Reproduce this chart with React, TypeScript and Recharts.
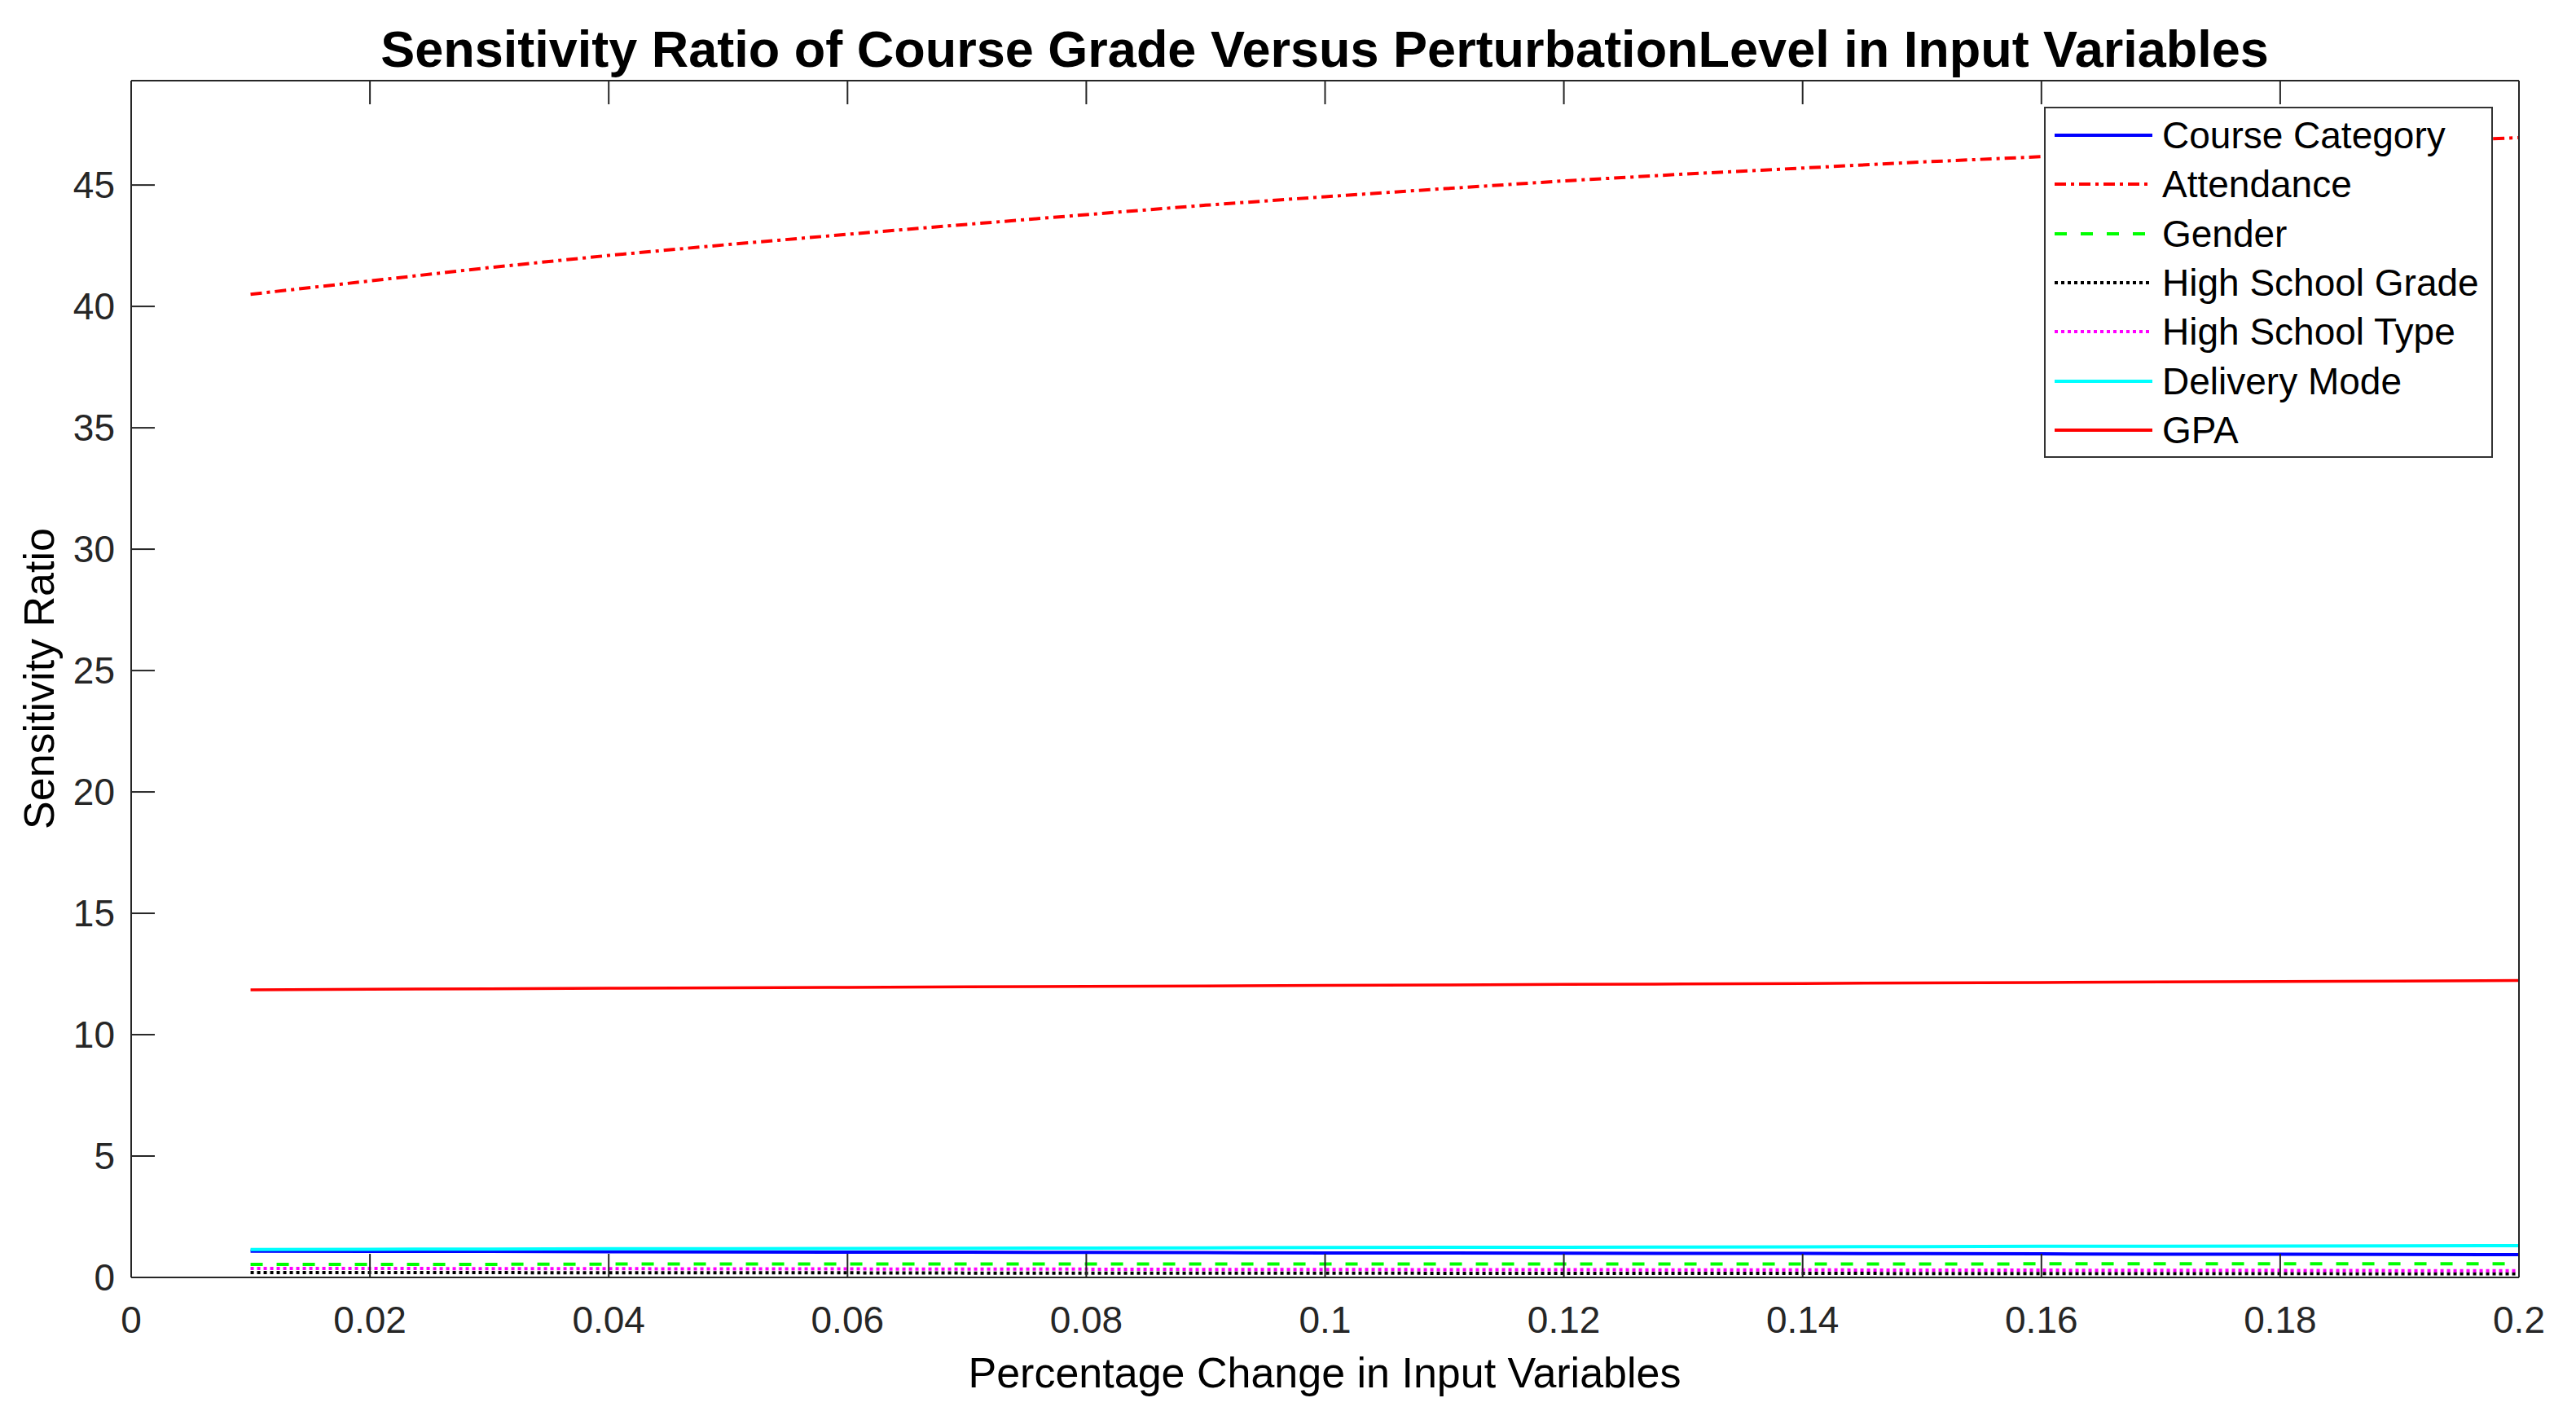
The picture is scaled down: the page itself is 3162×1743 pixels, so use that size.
import React from 'react';
import { LineChart, Line, XAxis, YAxis, Legend } from 'recharts';

const percentChange = [
  0.01, 0.02, 0.03, 0.04, 0.05, 0.06, 0.07, 0.08, 0.09, 0.1,
  0.11, 0.12, 0.13, 0.14, 0.15, 0.16, 0.17, 0.18, 0.19, 0.2,
];

const courseCategory = [
  1.08, 1.07, 1.07, 1.06, 1.05, 1.04, 1.04, 1.03, 1.02, 1.01,
  1.01, 1.0, 0.99, 0.99, 0.98, 0.97, 0.96, 0.96, 0.95, 0.94,
];
const attendance = [
  40.5, 41.05, 41.6, 42.1, 42.55, 42.97, 43.38, 43.78, 44.17, 44.52,
  44.85, 45.17, 45.45, 45.7, 45.95, 46.17, 46.38, 46.58, 46.77, 46.95,
];
const gender = [
  0.54, 0.54, 0.54, 0.55, 0.55, 0.55, 0.55, 0.55, 0.55, 0.55,
  0.55, 0.55, 0.55, 0.55, 0.55, 0.56, 0.56, 0.56, 0.56, 0.56,
];
const highSchoolGrade = [
  0.2, 0.2, 0.2, 0.19, 0.19, 0.19, 0.18, 0.18, 0.18, 0.18,
  0.17, 0.17, 0.17, 0.17, 0.16, 0.16, 0.16, 0.16, 0.15, 0.15,
];
const highSchoolType = [
  0.37, 0.37, 0.36, 0.36, 0.35, 0.35, 0.34, 0.34, 0.33, 0.33,
  0.32, 0.32, 0.31, 0.31, 0.3, 0.3, 0.29, 0.29, 0.28, 0.28,
];
const deliveryMode = [
  1.15, 1.16, 1.17, 1.18, 1.18, 1.19, 1.2, 1.21, 1.22, 1.23,
  1.24, 1.24, 1.25, 1.26, 1.27, 1.28, 1.28, 1.29, 1.3, 1.31,
];
const gpa = [
  11.85, 11.87, 11.89, 11.91, 11.93, 11.95, 11.97, 11.99, 12.01, 12.03,
  12.05, 12.07, 12.09, 12.11, 12.13, 12.15, 12.17, 12.19, 12.21, 12.23,
];

const xTicks = [0, 0.02, 0.04, 0.06, 0.08, 0.1, 0.12, 0.14, 0.16, 0.18, 0.2];
const yTicks = [0, 5, 10, 15, 20, 25, 30, 35, 40, 45];

const series = [
  { key: 'courseCategory', name: 'Course Category', values: courseCategory, color: '#0000ff', dash: undefined },
  { key: 'attendance', name: 'Attendance', values: attendance, color: '#ff0000', dash: '14 6 4 6' },
  { key: 'gender', name: 'Gender', values: gender, color: '#00ff00', dash: '15 17' },
  { key: 'highSchoolGrade', name: 'High School Grade', values: highSchoolGrade, color: '#000000', dash: '4 4' },
  { key: 'highSchoolType', name: 'High School Type', values: highSchoolType, color: '#ff00ff', dash: '4 4' },
  { key: 'deliveryMode', name: 'Delivery Mode', values: deliveryMode, color: '#00ffff', dash: undefined },
  { key: 'gpa', name: 'GPA', values: gpa, color: '#ff0000', dash: undefined },
];

const data = percentChange.map((x, i) => {
  const row: Record<string, number> = { x };
  series.forEach((s) => {
    row[s.key] = s.values[i];
  });
  return row;
});

const FONT = '"Liberation Sans", Arial, Helvetica, sans-serif';
const AXIS = '#262626';

const W = 3162;
const H = 1743;
// axes are 1px thick boxes, so the margins are one pixel short of the frame
const M = { top: 98, right: 69, bottom: 174, left: 160 };

function fmt(v: number) {
  return String(Number(v.toFixed(2)));
}

const blank = () => '';

function LegendBox() {
  return (
    <div
      style={{
        width: 547,
        height: 424,
        border: '2px solid #333',
        background: '#fff',
        boxSizing: 'content-box',
        paddingTop: 3,
        fontFamily: FONT,
        fontSize: 46,
        color: '#000',
      }}
    >
      {series.map((s) => (
        <div key={s.key} style={{ height: 60.3, display: 'flex', alignItems: 'center' }}>
          <svg width={143} height={20} style={{ flex: 'none' }}>
            <line
              x1={11}
              x2={131}
              y1={10}
              y2={10}
              stroke={s.color}
              strokeWidth={4}
              strokeDasharray={s.dash}
            />
          </svg>
          <span style={{ whiteSpace: 'nowrap', lineHeight: 1 }}>{s.name}</span>
        </div>
      ))}
    </div>
  );
}

export default function App() {
  const tickStyle = { fill: AXIS, fontSize: 46, fontFamily: FONT };
  return (
    <div style={{ position: 'absolute', left: 0, top: 0, width: W, height: H, background: '#fff' }}>
      <LineChart width={W} height={H} data={data} margin={M}>
        <XAxis
          xAxisId="bottom"
          dataKey="x"
          type="number"
          domain={[0, 0.2]}
          ticks={xTicks}
          interval={0}
          height={1}
          tickFormatter={fmt}
          stroke={AXIS}
          strokeWidth={2}
          tickSize={-29}
          tickMargin={64}
          tick={tickStyle}
        />
        <XAxis
          xAxisId="top"
          orientation="top"
          dataKey="x"
          type="number"
          domain={[0, 0.2]}
          ticks={xTicks}
          interval={0}
          height={1}
          stroke={AXIS}
          strokeWidth={2}
          tickSize={-29}
          tickFormatter={blank}
          tick={tickStyle}
        />
        <YAxis
          yAxisId="left"
          type="number"
          domain={[0, 49.3]}
          ticks={yTicks}
          interval={0}
          width={1}
          stroke={AXIS}
          strokeWidth={2}
          tickSize={-29}
          tickMargin={49}
          tick={tickStyle}
        />
        <YAxis
          yAxisId="right"
          orientation="right"
          type="number"
          domain={[0, 49.3]}
          ticks={yTicks}
          interval={0}
          width={1}
          stroke={AXIS}
          strokeWidth={2}
          tickSize={-29}
          tickFormatter={blank}
          tick={tickStyle}
        />
        <Legend
          layout="vertical"
          align="center"
          verticalAlign="middle"
          wrapperStyle={{ left: 2509, top: 131, width: 551 }}
          content={() => <LegendBox />}
        />
        {series.map((s) => (
          <Line
            key={s.key}
            xAxisId="bottom"
            yAxisId="left"
            dataKey={s.key}
            name={s.name}
            type="linear"
            stroke={s.color}
            strokeWidth={s.key === 'gpa' ? 3.5 : 4}
            strokeDasharray={s.dash}
            dot={false}
            activeDot={false}
            isAnimationActive={false}
          />
        ))}
      </LineChart>
      <svg
        width={W}
        height={H}
        style={{ position: 'absolute', left: 0, top: 0, pointerEvents: 'none' }}
      >
        <text
          x={1626}
          y={82}
          textAnchor="middle"
          fontFamily={FONT}
          fontWeight="bold"
          fontSize={63}
          fill="#000"
        >
          Sensitivity Ratio of Course Grade Versus PerturbationLevel in Input Variables
        </text>
        <text x={1626} y={1703} textAnchor="middle" fontFamily={FONT} fontSize={52} fill="#000">
          Percentage Change in Input Variables
        </text>
        <text
          x={66}
          y={833}
          textAnchor="middle"
          fontFamily={FONT}
          fontSize={52}
          fill="#000"
          transform="rotate(-90 66 833)"
        >
          Sensitivity Ratio
        </text>
      </svg>
    </div>
  );
}
